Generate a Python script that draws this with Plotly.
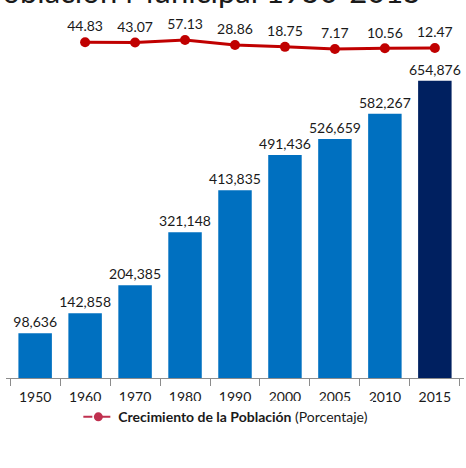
import plotly.graph_objects as go

# Census years and municipal population
anios = ["1950", "1960", "1970", "1980", "1990", "2000", "2005", "2010", "2015"]
poblacion = [98636, 142858, 204385, 321148, 413835, 491436, 526659, 582267, 654876]
# Population growth between consecutive censuses (percent); none for the first year
crecimiento = [None, 44.83, 43.07, 57.13, 28.86, 18.75, 7.17, 10.56, 12.47]

AZUL = "#0070C0"
AZUL_OSCURO = "#002060"
ROJO = "#C00000"
FUENTE = "Lato"

colores = [AZUL] * (len(anios) - 1) + [AZUL_OSCURO]

fig = go.Figure()

fig.add_trace(go.Bar(
    x=anios, y=poblacion,
    marker=dict(color=colores, line=dict(width=0)),
    text=[f"{v:,}" for v in poblacion],
    textposition="outside",
    constraintext="none",
    textfont=dict(family=FUENTE, size=14, color="#1a1a1a"),
    cliponaxis=False,
    showlegend=False,
))

fig.add_trace(go.Scatter(
    x=anios, y=crecimiento,
    mode="lines+markers+text",
    line=dict(color=ROJO, width=3),
    marker=dict(color=ROJO, size=10),
    text=[f"{v:.2f}" if v is not None else "" for v in crecimiento],
    textposition="top center",
    textfont=dict(family=FUENTE, size=14, color="#1a1a1a"),
    cliponaxis=False,
    connectgaps=False,
    yaxis="y2",
    showlegend=False,
))

# Legend entry with a dashed sample line
fig.add_trace(go.Scatter(
    x=[None], y=[None],
    mode="lines+markers",
    line=dict(color="#C0304F", width=2, dash="dash"),
    marker=dict(color="#C0304F", size=9),
    name="<b>Crecimiento de la Población</b> (Porcentaje)",
    yaxis="y2",
))

fig.update_layout(
    width=466, height=468,
    margin=dict(l=6, r=2, t=20, b=90),
    paper_bgcolor="white",
    plot_bgcolor="white",
    bargap=0.33,
    font=dict(family=FUENTE, color="#1a1a1a"),
    title=dict(
        text="Población Municipal 1950-2015",
        x=0.43, xanchor="center", xref="paper",
        y=1.0, yanchor="top", yref="container",
        pad=dict(t=-19),
        font=dict(family=FUENTE, size=31, color="#1a1a1a"),
    ),
    xaxis=dict(
        type="category",
        showline=True, linecolor="#8c8c8c", linewidth=1,
        ticks="outside", tickson="boundaries", ticklen=7, tickcolor="#8c8c8c",
        ticklabelstandoff=6,
        tickfont=dict(family=FUENTE, size=14, color="#1a1a1a"),
        showgrid=False,
    ),
    yaxis=dict(range=[0, 789000], visible=False, showgrid=False),
    yaxis2=dict(overlaying="y", range=[-1831, 168.8], visible=False, showgrid=False),
    legend=dict(
        orientation="h", x=0.48, xanchor="center", y=-0.065, yanchor="top",
        font=dict(family=FUENTE, size=14, color="#1a1a1a"),
        itemwidth=30,
    ),
    annotations=[
        dict(
            text="<b>Población Municipal</b>",
            xref="paper", yref="paper", x=0.5, xanchor="center",
            y=-0.243, yanchor="top",
            showarrow=False,
            font=dict(family=FUENTE, size=18, color="#1a1a1a"),
        ),
    ],
)

fig.write_html("out.html")
